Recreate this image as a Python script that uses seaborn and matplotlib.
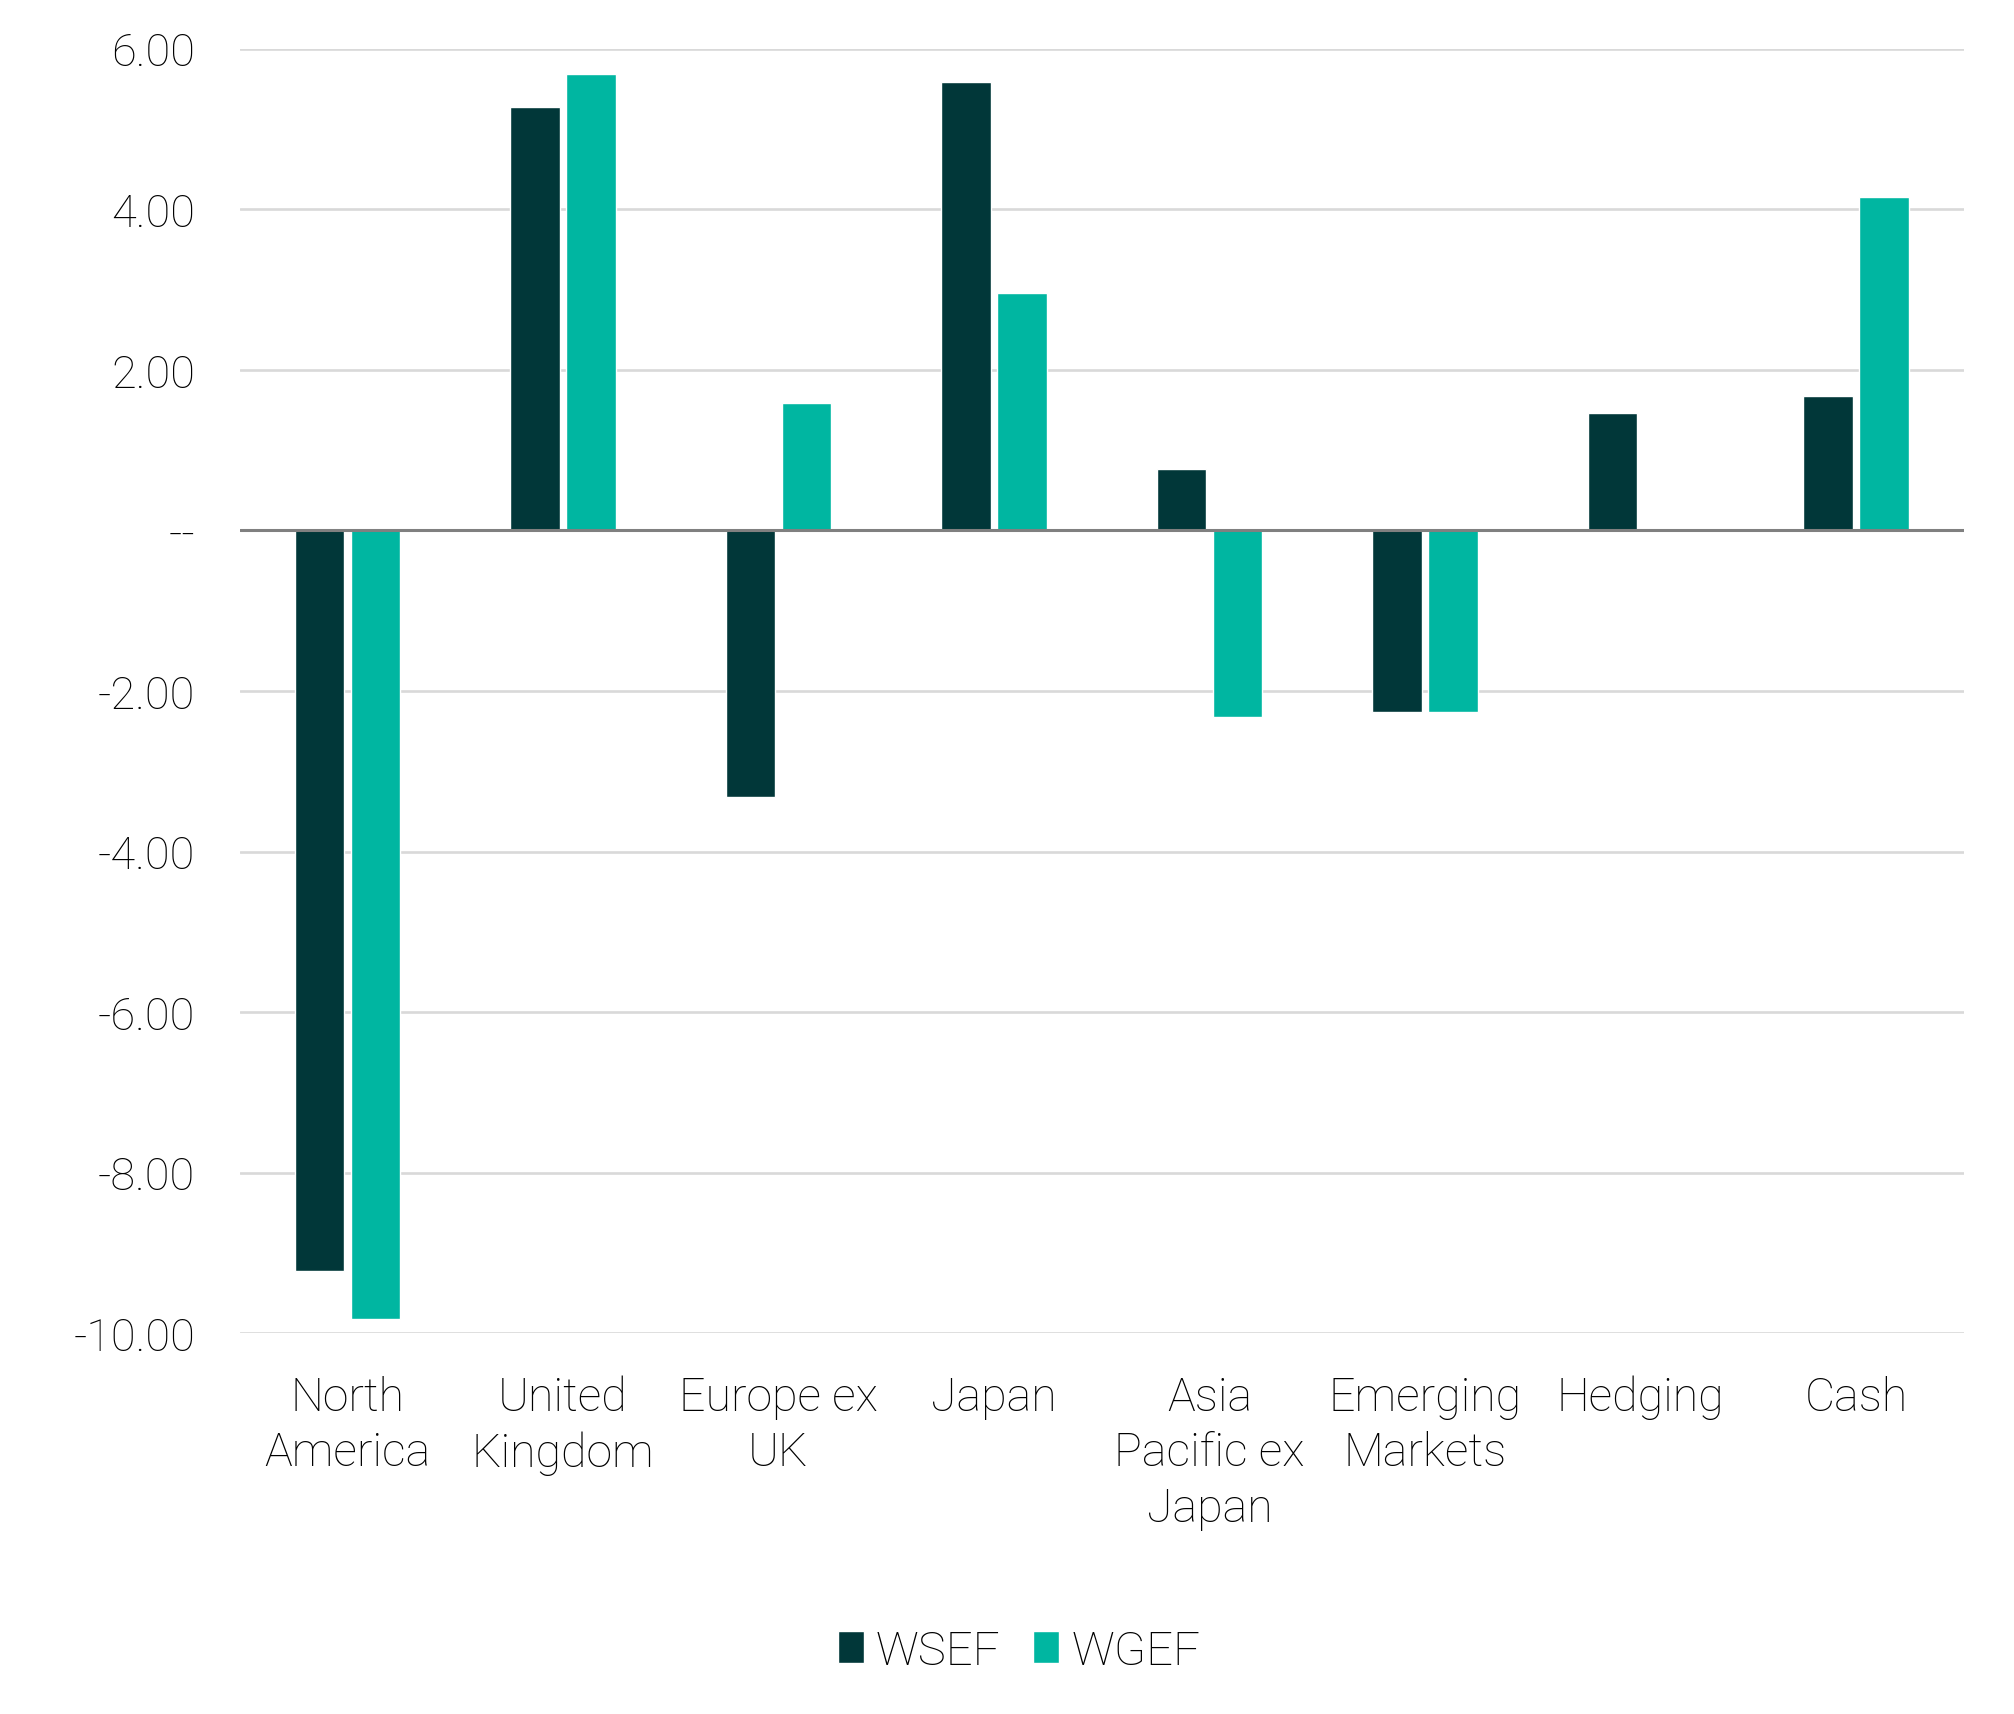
import numpy as np
import pandas as pd
import matplotlib
matplotlib.use("Agg")
import matplotlib.pyplot as plt
import seaborn as sns

categories = ["North\nAmerica", "United\nKingdom", "Europe ex\nUK", "Japan",
              "Asia\nPacific ex\nJapan", "Emerging\nMarkets", "Hedging", "Cash"]
wsef = [-9.22, 5.28, -3.32, 5.58, 0.77, -2.26, 1.46, 1.68]
wgef = [-9.82, 5.69, 1.59, 2.96, -2.33, -2.26, np.nan, 4.15]
series_names = ["WSEF", "WGEF"]
colors = ["#013739", "#00B6A1"]
yticks = [-10, -8, -6, -4, -2, 0, 2, 4, 6]
ytick_labels = ["-10.00", "-8.00", "-6.00", "-4.00", "-2.00", "--", "2.00", "4.00", "6.00"]

df = pd.DataFrame({
    "category": categories * 2,
    "series": [series_names[0]] * len(categories) + [series_names[1]] * len(categories),
    "value": wsef + wgef,
})

sns.set_theme(style="white")
plt.rcParams["font.family"] = ["Roboto", "DejaVu Sans"]
plt.rcParams["font.weight"] = "light"

fig = plt.figure(figsize=(20.14, 17.15), dpi=100)
ax = fig.add_axes([0.119, 0.222, 0.856, 0.749])

sns.barplot(data=df, x="category", y="value", hue="series", order=categories,
            hue_order=series_names, palette=colors, width=0.52, gap=0.12,
            saturation=1, ax=ax, legend=True, errorbar=None)

ax.set_ylim(-10, 6)
ax.set_xlim(-0.5, len(categories) - 0.5)
ax.set_yticks(yticks)
ax.set_yticklabels(ytick_labels)
ax.yaxis.grid(True, color="#D9D9D9", linewidth=1.9)
ax.xaxis.grid(False)
ax.set_axisbelow(True)
ax.axhline(0, color="#808080", linewidth=2.2, zorder=3)
for s in ax.spines.values():
    s.set_visible(False)
ax.tick_params(axis="y", length=0, pad=32, labelsize=32.5, labelcolor="#000000")
ax.tick_params(axis="x", length=0, pad=30, labelsize=33.5, labelcolor="#000000")
for lab in ax.get_xticklabels() + ax.get_yticklabels():
    lab.set_fontweight("light")
for lab in ax.get_xticklabels():
    lab.set_linespacing(1.33)
ax.set_xlabel("")
ax.set_ylabel("")

handles, labels = ax.get_legend_handles_labels()
ax.get_legend().remove()
leg = fig.legend(handles, labels, loc="center", bbox_to_anchor=(0.506, 0.037), ncol=2,
                 frameon=False, fontsize=34, handlelength=0.55, handleheight=0.65,
                 handletextpad=0.25, columnspacing=0.7)
for t in leg.get_texts():
    t.set_fontweight("light")
    t.set_color("#000000")

fig.savefig("out.png", dpi=100, facecolor="white")
